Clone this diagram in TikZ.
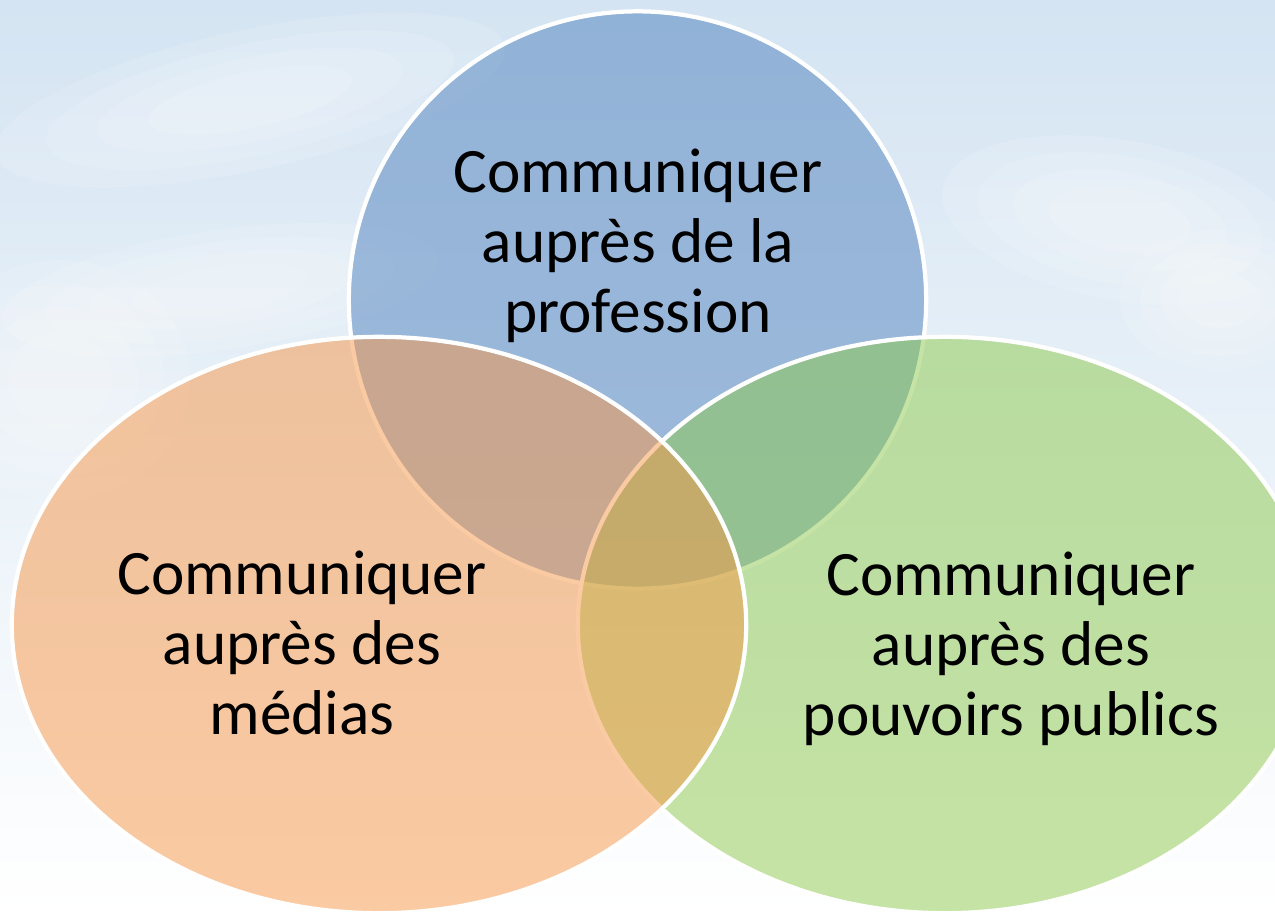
\documentclass[tikz,border=0pt]{standalone}
\usepackage{fontspec}
\setmainfont{Carlito}
\usetikzlibrary{shapes.geometric}

\definecolor{profblue}{HTML}{4F81BD}
\definecolor{pouvgreen}{HTML}{8DC94B}
\definecolor{mediaorange}{HTML}{F79646}
\definecolor{skytop}{RGB}{212,228,242}

\tikzset{
  venn/.style={ellipse, draw=white, line width=1.2pt, fill opacity=0.5, inner sep=0pt, outer sep=0pt},
  lbl/.style={align=center, font=\fontsize{18}{19.9}\selectfont, text=black},
  skycloud/.style={fill=white, opacity=0.12}
}

\begin{document}
\begin{tikzpicture}[x=0.01cm,y=-0.01cm]
\clip (0,0) rectangle (1275,912);

% sky behind the diagram
\shade[top color=skytop, middle color=skytop!45, bottom color=white] (0,0) rectangle (1275,912);
\foreach \s in {1,0.8,0.6,0.4}{
  \fill[skycloud, rotate around={12:(250,100)}] (250,100) ellipse [x radius=2.6cm*\s, y radius=0.7cm*\s];
  \fill[skycloud, rotate around={8:(220,290)}] (220,290) ellipse [x radius=2.2cm*\s, y radius=0.6cm*\s];
  \fill[skycloud] (60,380) ellipse [x radius=1.3cm*\s, y radius=1.2cm*\s];
  \fill[skycloud, rotate around={-10:(1120,220)}] (1120,220) ellipse [x radius=1.8cm*\s, y radius=0.8cm*\s];
  \fill[skycloud] (1220,300) ellipse [x radius=1cm*\s, y radius=0.7cm*\s];
}

% the three sets
\node[venn, fill=profblue, minimum width=5.77cm, minimum height=5.77cm] (prof) at (637.5,300) {};
\node[venn, fill=pouvgreen, minimum width=7.34cm, minimum height=5.76cm] (pouvoirs) at (945,625) {};
\node[venn, fill=mediaorange, minimum width=7.34cm, minimum height=5.76cm] (medias) at (379,625) {};

\node[lbl] (tprof) at (638,246) {Communiquer\\auprès de la\\profession};
\node[lbl] (tmedias) at (302,643) {Communiquer\\auprès des\\médias};
\node[lbl] (tpouv) at (1011,649) {Communiquer\\auprès des\\pouvoirs publics};
\end{tikzpicture}
\end{document}
